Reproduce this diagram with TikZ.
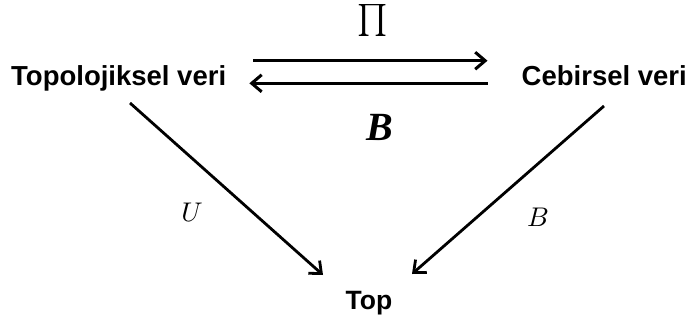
\documentclass[tikz,border=0pt]{standalone}
\usepackage{amsmath}
\usepackage{graphicx}
\usepackage{fontspec}
\newfontfamily\arialfont{Liberation Sans}
\newfontfamily\timesfont{Liberation Serif}
\usetikzlibrary{arrows.meta,calc}
\tikzset{
  lbl/.style={inner sep=0pt, font=\arialfont\bfseries\fontsize{27.5}{32}\selectfont},
  toplbl/.style={inner sep=0pt, font=\arialfont\bfseries\fontsize{26.5}{30}\selectfont},
  maplbl/.style={inner sep=0pt},
  harrow/.style={line width=3pt, -{Straight Barb[length=10pt,width=17pt,line width=3pt]}},
  darrow/.style={line width=2.8pt, -{Straight Barb[length=10pt,width=17pt,line width=2.8pt]}}
}
\begin{document}
\begin{tikzpicture}[x=1pt,y=-1pt]
\useasboundingbox (0,0) rectangle (692,321);
\node[lbl, anchor=base west] (a) at (11,85) {Topolojiksel veri};
\node[lbl, anchor=base east] (b) at (687,85) {Cebirsel veri};
\node[toplbl, anchor=base] (t) at (369,309) {Top};
% horizontal arrows
\draw[harrow] ($(a.base east)+(27,-24.3)$) -- ($(b.base west)+(-34,-24.3)$);
\draw[harrow] ($(b.base west)+(-34,-1.7)$) -- ($(a.base east)+(23,-1.7)$);
% diagonal arrows
\draw[darrow] ($(a.base west)+(119,18)$) -- ($(t.base)+(-46,-34)$);
\draw[darrow] ($(b.base east)+(-83,21)$) -- ($(t.base)+(43,-35)$);
% labels
\node[inner sep=0pt] (pi) at (373,21) {\scalebox{3.2}{$\prod$}};
\node[inner sep=0pt, font=\timesfont\bfseries\itshape\fontsize{40}{46}\selectfont] (bb) at (380,127) {B};
\node[maplbl] (u) at (192,212) {\scalebox{2.7}{$U$}};
\node[maplbl] (bs) at (538,217) {\scalebox{2.7}{$B$}};
\end{tikzpicture}
\end{document}
